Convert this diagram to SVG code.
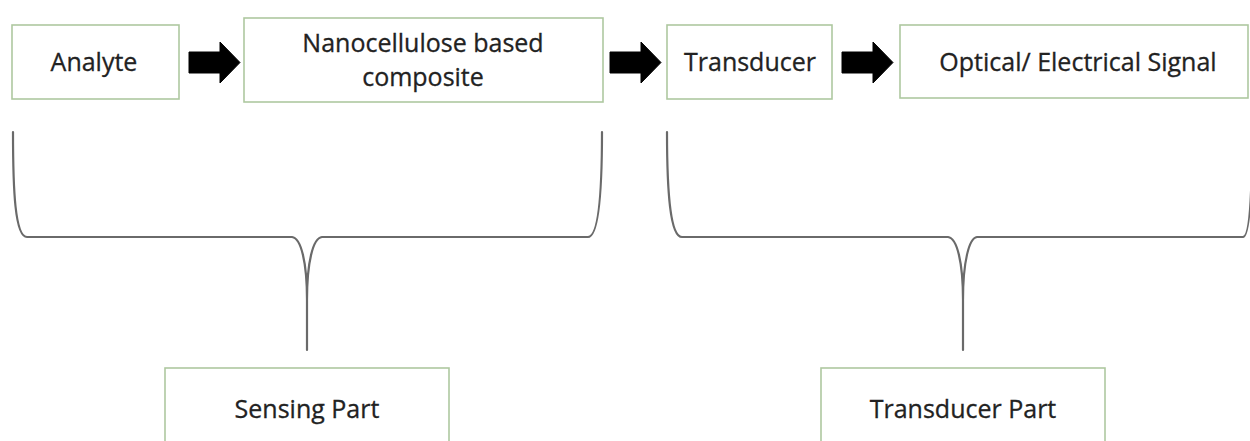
<svg xmlns="http://www.w3.org/2000/svg" width="1250" height="441" viewBox="0 0 1250 441">
  <style>
    .box { fill: #ffffff; stroke: #aec8a0; stroke-width: 1.6; }
    .lbl { font-family: "Open Sans", "Noto Sans", sans-serif; font-size: 25px; fill: #222222; text-anchor: middle; stroke: #222222; stroke-width: 0.3; }
    .brace { fill: none; stroke: #6a6a6a; stroke-width: 2.2; stroke-linecap: round; stroke-linejoin: round; }
    .arrow { fill: #000000; stroke: #000000; stroke-width: 1; stroke-linejoin: round; }
  </style>
  <defs>
    <path id="blockArrow" d="M0,52 H31 V42 L51,62.5 L31,83 V73 H0 Z"/>
  </defs>
  <rect width="1250" height="441" fill="#ffffff"/>

  <g id="node-analyte">
    <rect class="box" x="12" y="25" width="167" height="74"/>
    <text class="lbl" x="94" y="71">Analyte</text>
  </g>
  <g id="node-nanocellulose">
    <rect class="box" x="244" y="18" width="359" height="84"/>
    <text class="lbl" x="423" y="52">Nanocellulose based</text>
    <text class="lbl" x="423" y="86">composite</text>
  </g>
  <g id="node-transducer">
    <rect class="box" x="667" y="25" width="165" height="74"/>
    <text class="lbl" x="750" y="71" font-size="24">Transducer</text>
  </g>
  <g id="node-signal">
    <rect class="box" x="900" y="25" width="348" height="73"/>
    <text class="lbl" x="1078" y="71">Optical/ Electrical Signal</text>
  </g>
  <g id="node-sensing-part">
    <rect class="box" x="165" y="368" width="284" height="90"/>
    <text class="lbl" x="307" y="418">Sensing Part</text>
  </g>
  <g id="node-transducer-part">
    <rect class="box" x="821" y="368" width="284" height="90"/>
    <text class="lbl" x="963" y="418">Transducer Part</text>
  </g>

  <g id="connectors">
    <use href="#blockArrow" class="arrow" x="189" y="0"/>
    <use href="#blockArrow" class="arrow" x="610" y="0"/>
    <use href="#blockArrow" class="arrow" x="842" y="0"/>
    <path class="brace" d="M13,132 C13,190 15,237 27,237 H292 C301,238 307,262 307,300 V350 M307,300 C307,262 313,238 322,237 H588 C599,237 602,190 602,132"/>
    <path class="brace" d="M667,132 C667,190 670,237 682,237 H948 C957,238 963,262 963,300 V350 M963,300 C963,262 969,238 977,237 H1243 C1250,237 1252,190 1252,132"/>
  </g>
</svg>
